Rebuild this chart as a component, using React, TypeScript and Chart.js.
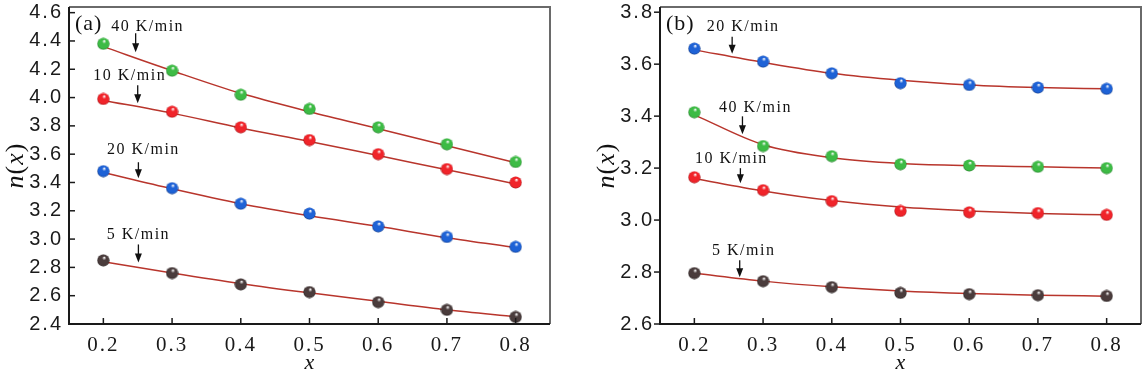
import React, { useEffect, useRef } from 'react';
import { Chart, registerables } from 'chart.js';
Chart.register(...registerables);

// ---------- data ----------
const xValues = [0.2, 0.3, 0.4, 0.5, 0.6, 0.7, 0.8];
const xTicks = [0.2, 0.3, 0.4, 0.5, 0.6, 0.7, 0.8];
const yTicksA = [2.4, 2.6, 2.8, 3.0, 3.2, 3.4, 3.6, 3.8, 4.0, 4.2, 4.4, 4.6];
const yTicksB = [2.6, 2.8, 3.0, 3.2, 3.4, 3.6, 3.8];

// panel (a)
const a40 = [4.38, 4.19, 4.02, 3.92, 3.79, 3.67, 3.545];
const a40Fit = [4.36, 4.19, 4.03, 3.90, 3.78, 3.66, 3.54];
const a10 = [3.99, 3.90, 3.79, 3.70, 3.60, 3.495, 3.40];
const a10Fit = [3.98, 3.89, 3.785, 3.69, 3.59, 3.49, 3.39];
const a20 = [3.48, 3.36, 3.25, 3.18, 3.09, 3.015, 2.945];
const a20Fit = [3.47, 3.355, 3.25, 3.165, 3.09, 3.01, 2.94];
const a5 = [2.85, 2.76, 2.68, 2.626, 2.555, 2.50, 2.45];
const a5Fit = [2.84, 2.76, 2.685, 2.62, 2.56, 2.50, 2.45];

// panel (b)
const b20 = [3.66, 3.61, 3.565, 3.527, 3.52, 3.51, 3.505];
const b20Fit = [3.655, 3.607, 3.565, 3.538, 3.52, 3.51, 3.505];
const b40 = [3.415, 3.285, 3.246, 3.215, 3.21, 3.205, 3.20];
const b40Fit = [3.405, 3.29, 3.24, 3.218, 3.21, 3.205, 3.20];
const b10 = [3.165, 3.115, 3.073, 3.035, 3.03, 3.027, 3.02];
const b10Fit = [3.16, 3.112, 3.075, 3.05, 3.035, 3.025, 3.02];
const b5 = [2.796, 2.765, 2.742, 2.72, 2.715, 2.711, 2.708];
const b5Fit = [2.795, 2.765, 2.743, 2.727, 2.717, 2.711, 2.707];

const rateLabels = ['40 K/min', '10 K/min', '20 K/min', '5 K/min'];

const FIT_COLOR = '#b8352c';
const colors = {
  green: ['#3dbb45', '#1d6a22'],
  red: ['#f0242a', '#8a0d10'],
  blue: ['#1e62d6', '#0b2a6a'],
  black: ['#4a3c3c', '#141010'],
};

function sphere(base: string, dark: string, size = 13): HTMLCanvasElement {
  const c = document.createElement('canvas');
  c.width = size;
  c.height = size;
  const g = c.getContext('2d')!;
  const r = size / 2;
  const grad = g.createRadialGradient(r * 1.15, r * 0.55, 0.3, r, r, r);
  grad.addColorStop(0, '#ffffff');
  grad.addColorStop(0.28, base);
  grad.addColorStop(0.8, base);
  grad.addColorStop(1, dark);
  g.fillStyle = grad;
  g.beginPath();
  g.arc(r, r, r - 0.4, 0, Math.PI * 2);
  g.fill();
  return c;
}

type Ann = { text: string; x: number; y: number; dx: number; dy: number; len: number };

interface PanelDef {
  tag: string;
  yMin: number;
  yMax: number;
  yTicks: number[];
  series: { pts: number[]; fit: number[]; col: [string, string] }[];
  anns: Ann[];
  yTickOutside: boolean;
  yAxisWidth: number;
  rightPad: number;
}

const xy = (arr: number[]) => xValues.map((x, i) => ({ x, y: arr[i] }));

function buildChart(canvas: HTMLCanvasElement, p: PanelDef) {
  const datasets: any[] = [];
  p.series.forEach((s) => {
    datasets.push({
      data: xy(s.fit),
      showLine: true,
      borderColor: FIT_COLOR,
      borderWidth: 1.5,
      pointRadius: 0,
      cubicInterpolationMode: 'monotone',
      order: 2,
    });
    datasets.push({
      data: xy(s.pts),
      showLine: false,
      pointStyle: sphere(s.col[0], s.col[1]),
      pointRadius: 6.5,
      order: 1,
    });
  });

  const spacing = (ctx: CanvasRenderingContext2D) => {
    (ctx as any).letterSpacing = '2px';
  };

  const decor = {
    id: 'decor',
    beforeLayout(chart: any) {
      spacing(chart.ctx);
    },
    beforeDraw(chart: any) {
      spacing(chart.ctx);
    },
    afterDraw(chart: any) {
      const ctx: CanvasRenderingContext2D = chart.ctx;
      const { left, right, top, bottom } = chart.chartArea;
      const xs = chart.scales.x;
      const ys = chart.scales.y;
      ctx.save();
      (ctx as any).letterSpacing = '0px';
      // frame
      ctx.lineWidth = 2;
      ctx.strokeStyle = '#6a6a6a';
      ctx.beginPath();
      ctx.moveTo(left, top);
      ctx.lineTo(right, top);
      ctx.lineTo(right, bottom);
      ctx.stroke();
      ctx.strokeStyle = '#1a1a1a';
      ctx.beginPath();
      ctx.moveTo(left, top);
      ctx.lineTo(left, bottom);
      ctx.lineTo(right, bottom);
      ctx.stroke();
      // ticks
      ctx.lineWidth = 1.5;
      xTicks.forEach((v) => {
        const px = xs.getPixelForValue(v);
        ctx.beginPath();
        ctx.moveTo(px, bottom);
        ctx.lineTo(px, bottom - 6);
        ctx.stroke();
      });
      p.yTicks.forEach((v) => {
        const py = ys.getPixelForValue(v);
        ctx.beginPath();
        ctx.moveTo(left, py);
        ctx.lineTo(p.yTickOutside ? left - 6 : left + 6, py);
        ctx.stroke();
      });
      // panel tag
      ctx.fillStyle = '#111';
      ctx.font = '22px "Liberation Serif"';
      ctx.textBaseline = 'middle';
      ctx.textAlign = 'left';
      (ctx as any).letterSpacing = '1px';
      ctx.fillText(p.tag, left + 6, top + 17);
      // annotations
      ctx.font = '16px "Liberation Serif"';
      ctx.textAlign = 'center';
      (ctx as any).letterSpacing = '1.5px';
      p.anns.forEach((a) => {
        const tx = xs.getPixelForValue(a.x);
        const ty = ys.getPixelForValue(a.y);
        ctx.fillStyle = '#111';
        ctx.fillText(a.text, tx + a.dx, ty + a.dy);
        ctx.strokeStyle = '#111';
        ctx.lineWidth = 1.3;
        ctx.beginPath();
        ctx.moveTo(tx, ty - a.len);
        ctx.lineTo(tx, ty - 7);
        ctx.stroke();
        ctx.beginPath();
        ctx.moveTo(tx - 3.5, ty - 9);
        ctx.lineTo(tx + 3.5, ty - 9);
        ctx.lineTo(tx, ty);
        ctx.closePath();
        ctx.fill();
      });
      // axis titles
      (ctx as any).letterSpacing = '0px';
      ctx.textAlign = 'center';
      ctx.font = 'italic 22px "Liberation Serif"';
      ctx.fillText('x', (left + right) / 2, 363);
      ctx.save();
      const titleX = left - 53;
      ctx.translate(titleX, (top + bottom) / 2);
      ctx.rotate(-Math.PI / 2);
      const parts: [string, string][] = [
        ['n', 'italic 26px "Liberation Serif"'],
        ['(', '26px "Liberation Serif"'],
        ['x', 'italic 26px "Liberation Serif"'],
        [')', '26px "Liberation Serif"'],
      ];
      let total = 0;
      const widths = parts.map(([t, f]) => {
        ctx.font = f;
        const w = ctx.measureText(t).width + 1;
        total += w;
        return w;
      });
      let cx = -total / 2;
      ctx.textAlign = 'left';
      parts.forEach(([t, f], i) => {
        ctx.font = f;
        ctx.fillText(t, cx, 0);
        cx += widths[i];
      });
      ctx.restore();
      ctx.restore();
    },
  };

  return new Chart(canvas, {
    type: 'scatter',
    data: { datasets },
    plugins: [decor],
    options: {
      animation: false,
      responsive: false,
      events: [],
      layout: { autoPadding: false, padding: { top: 7, left: 0, right: p.rightPad, bottom: 0 } },
      plugins: { legend: { display: false }, tooltip: { enabled: false } },
      scales: {
        x: {
          type: 'linear',
          min: 0.15,
          max: 0.85,
          afterBuildTicks: (s: any) => {
            s.ticks = xTicks.map((v) => ({ value: v }));
          },
          afterFit: (s: any) => {
            s.height = 48;
            s.paddingLeft = 0;
            s.paddingRight = 0;
          },
          grid: { display: false, drawTicks: false },
          border: { display: false },
          ticks: {
            autoSkip: false,
            maxRotation: 0,
            padding: 9,
            color: '#1a1a1a',
            font: { family: '"Liberation Serif"', size: 21 },
            callback: (v: any) => Number(v).toFixed(1),
          },
        },
        y: {
          type: 'linear',
          min: p.yMin,
          max: p.yMax,
          afterBuildTicks: (s: any) => {
            s.ticks = p.yTicks.map((v) => ({ value: v }));
          },
          afterFit: (s: any) => {
            s.width = p.yAxisWidth;
            s.paddingTop = 0;
            s.paddingBottom = 0;
          },
          grid: { display: false, drawTicks: false },
          border: { display: false },
          ticks: {
            autoSkip: false,
            padding: 6,
            color: '#1a1a1a',
            font: { family: '"Liberation Sans"', size: 20 },
            callback: (v: any) => Number(v).toFixed(1),
          },
        },
      },
    },
  } as any);
}

const panelA: PanelDef = {
  tag: '(a)',
  yMin: 2.4,
  yMax: 4.64,
  yTicks: yTicksA,
  series: [
    { pts: a40, fit: a40Fit, col: colors.green as [string, string] },
    { pts: a10, fit: a10Fit, col: colors.red as [string, string] },
    { pts: a20, fit: a20Fit, col: colors.blue as [string, string] },
    { pts: a5, fit: a5Fit, col: colors.black as [string, string] },
  ],
  anns: [
    { text: rateLabels[0], x: 0.247, y: 4.32, dx: 12, dy: -25, len: 19 },
    { text: rateLabels[1], x: 0.25, y: 3.96, dx: -8, dy: -27, len: 18 },
    { text: rateLabels[2], x: 0.251, y: 3.43, dx: 5, dy: -28, len: 16 },
    { text: rateLabels[3], x: 0.251, y: 2.835, dx: 0, dy: -28, len: 18 },
  ],
  yTickOutside: false,
  yAxisWidth: 69,
  rightPad: 10,
};

const panelB: PanelDef = {
  tag: '(b)',
  yMin: 2.6,
  yMax: 3.82,
  yTicks: yTicksB,
  series: [
    { pts: b20, fit: b20Fit, col: colors.blue as [string, string] },
    { pts: b40, fit: b40Fit, col: colors.green as [string, string] },
    { pts: b10, fit: b10Fit, col: colors.red as [string, string] },
    { pts: b5, fit: b5Fit, col: colors.black as [string, string] },
  ],
  anns: [
    { text: rateLabels[2], x: 0.255, y: 3.64, dx: 11, dy: -27, len: 17 },
    { text: rateLabels[0], x: 0.27, y: 3.33, dx: 13, dy: -27, len: 18 },
    { text: rateLabels[1], x: 0.267, y: 3.142, dx: -9, dy: -24, len: 15 },
    { text: rateLabels[3], x: 0.266, y: 2.78, dx: 4, dy: -26, len: 17 },
  ],
  yTickOutside: true,
  yAxisWidth: 80,
  rightPad: 1,
};

export default function App() {
  const refA = useRef<HTMLCanvasElement>(null);
  const refB = useRef<HTMLCanvasElement>(null);
  useEffect(() => {
    const ca = buildChart(refA.current!, panelA);
    const cb = buildChart(refB.current!, panelB);
    return () => {
      ca.destroy();
      cb.destroy();
    };
  }, []);
  return (
    <div
      style={{
        position: 'fixed',
        left: 0,
        top: 0,
        width: 1142,
        height: 372,
        background: '#fff',
        overflow: 'hidden',
      }}
    >
      <canvas ref={refA} width={560} height={372} style={{ position: 'absolute', left: 0, top: 0 }} />
      <canvas ref={refB} width={562} height={372} style={{ position: 'absolute', left: 580, top: 0 }} />
    </div>
  );
}
